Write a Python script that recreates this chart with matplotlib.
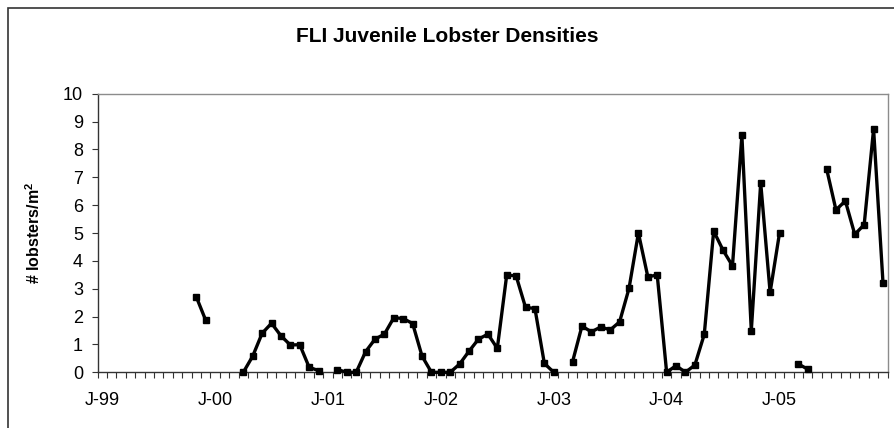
import matplotlib
matplotlib.use("Agg")
import matplotlib.pyplot as plt
from matplotlib.patches import Rectangle
import numpy as np

plt.rcParams['font.family'] = ['Liberation Sans', 'DejaVu Sans']

# monthly densities (lobsters/m^2), None = no sample
y1999 = [None, None, None, None, None, None, None, None, None, None, 2.71, 1.87]
y2000 = [None, None, None, 0.0, 0.58, 1.40, 1.76, 1.31, 0.98, 0.99, 0.18, 0.06]
y2001 = [None, 0.10, 0.0, 0.0, 0.74, 1.19, 1.37, 1.96, 1.93, 1.75, 0.58, 0.0]
y2002 = [0.0, 0.0, 0.30, 0.76, 1.19, 1.37, 0.86, 3.49, 3.46, 2.33, 2.29, 0.32]
y2003 = [0.0, None, 0.38, 1.66, 1.45, 1.63, 1.52, 1.81, 3.01, 5.00, 3.43, 3.49]
y2004 = [0.0, 0.24, 0.0, 0.26, 1.36, 5.07, 4.38, 3.82, 8.50, 1.49, 6.80, 2.87]
y2005 = [5.00, None, 0.30, 0.11, None, 7.31, 5.83, 6.15, 4.95, 5.30, 8.73, 3.21]

years = ['99', '00', '01', '02', '03', '04', '05']
tick_labels = ['J-' + y for y in years]

density = np.array([np.nan if v is None else v
                    for v in y1999 + y2000 + y2001 + y2002 + y2003 + y2004 + y2005])
months = np.arange(len(density))

fig = plt.figure(figsize=(8.94, 4.28), dpi=100)
ax = fig.add_axes([97.5 / 894, 1 - 372.3 / 428, 790.2 / 894, 278.6 / 428])

ax.plot(months, density, color='black', lw=2.4, marker='s', ms=4,
        clip_on=False, zorder=3)

ax.set_xlim(-0.5, len(density) - 0.5)
ax.set_ylim(0, 10)
ax.set_yticks(range(0, 11))
ax.set_xticks(np.arange(-0.5, len(density) + 0.5, 1))
ax.set_xticklabels([])
ax.set_xticks(np.arange(0, len(density), 12), minor=True)
ax.set_xticklabels(tick_labels, minor=True)
ax.tick_params(axis='x', which='major', direction='out', length=4.5, width=0.8, color='#333333')
ax.tick_params(axis='x', which='minor', length=0, pad=14, labelsize=13)
ax.tick_params(axis='y', direction='out', length=4.5, width=0.8, color='#333333',
               labelsize=13, pad=6)

for s in ['top', 'right']:
    ax.spines[s].set_color('#8c8c8c')
    ax.spines[s].set_linewidth(1.0)
for s in ['left', 'bottom']:
    ax.spines[s].set_color('#333333')
    ax.spines[s].set_linewidth(1.0)

ax.set_ylabel('# lobsters/m$^\\mathregular{2}$', fontsize=11.5, fontweight='bold')
ax.yaxis.set_label_coords(-0.069, 0.5)

fig.text(0.5, 1 - 36 / 428, 'FLI Juvenile Lobster Densities', ha='center', va='center',
         fontsize=15, fontweight='bold')

# outer chart border
fig.add_artist(Rectangle((8 / 894, -0.5), 2, 1.5 - 7.5 / 428, transform=fig.transFigure,
                         fill=False, edgecolor='#333333', lw=1.2))

fig.savefig('out.png', dpi=100)
